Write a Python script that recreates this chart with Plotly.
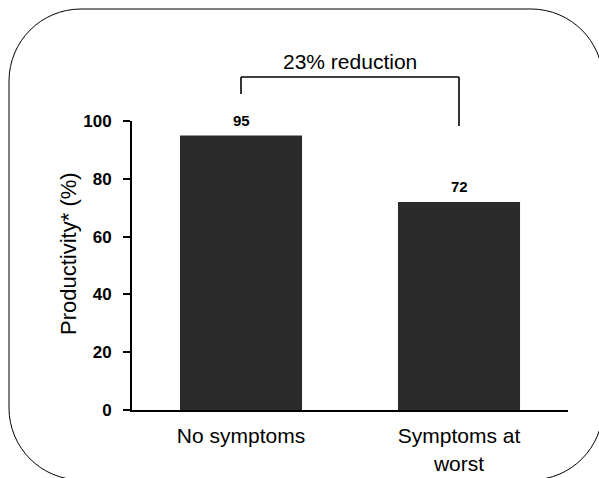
import plotly.graph_objects as go

# ---- data ----
categories = ["No symptoms", "Symptoms at<br>worst"]
values = [95, 72]
value_labels = ["95", "72"]
ytick_vals = [0, 20, 40, 60, 80, 100]
ytick_text = ["0", "20", "40", "60", "80", "100"]
reduction_label = "23% reduction"
y_title = "Productivity* (%)"

W, H = 599, 478
ML, MR, MT, MB = 132, 31, 121, 68
PW, PH = W - ML - MR, H - MT - MB

def px(x):
    return (x - ML) / PW

def py(y):
    return (H - MB - y) / PH

FONT = "Arial, Liberation Sans, Helvetica, sans-serif"

fig = go.Figure()
fig.add_trace(go.Bar(
    x=categories, y=values, width=0.56,
    marker=dict(color="#2b2b2b", line=dict(width=0)),
    hoverinfo="skip",
))

annotations = []
for c, v, t in zip(categories, values, value_labels):
    annotations.append(dict(
        x=c, y=v, xref="x", yref="y", text="<b>%s</b>" % t, showarrow=False,
        yanchor="middle", yshift=15, font=dict(size=15, color="black", family=FONT),
    ))

annotations.append(dict(
    x=0.5, y=py(62), xref="x", yref="paper", text=reduction_label, showarrow=False,
    xanchor="center", yanchor="middle", font=dict(size=21, color="black", family=FONT),
))
annotations.append(dict(
    x=px(69), y=py(254), xref="paper", yref="paper", text=y_title, showarrow=False,
    textangle=-90, xanchor="center", yanchor="middle",
    font=dict(size=22, color="black", family=FONT),
))

# rounded rectangle frame (pixel geometry converted to paper)
L, T, R, B, r = 9, 9, 603, 480, 72
k = 0.5523 * r
def P(x, y):
    return "%.5f,%.5f" % (px(x), py(y))
path = (
    "M " + P(L + r, T) +
    " L " + P(R - r, T) +
    " C " + P(R - r + k, T) + " " + P(R, T + r - k) + " " + P(R, T + r) +
    " L " + P(R, B - r) +
    " C " + P(R, B - r + k) + " " + P(R - r + k, B) + " " + P(R - r, B) +
    " L " + P(L + r, B) +
    " C " + P(L + r - k, B) + " " + P(L, B - r + k) + " " + P(L, B - r) +
    " L " + P(L, T + r) +
    " C " + P(L, T + r - k) + " " + P(L + r - k, T) + " " + P(L + r, T) + " Z"
)

shapes = [
    dict(type="path", path=path, xref="paper", yref="paper",
         line=dict(color="black", width=1), fillcolor="rgba(0,0,0,0)", layer="below"),
    # bracket
    dict(type="line", xref="x", yref="paper", x0=0, x1=1, y0=py(77), y1=py(77),
         line=dict(color="black", width=1.6)),
    dict(type="line", xref="x", yref="paper", x0=0, x1=0, y0=py(77), y1=py(94),
         line=dict(color="black", width=1.6)),
    dict(type="line", xref="x", yref="paper", x0=1, x1=1, y0=py(77), y1=py(126),
         line=dict(color="black", width=1.6)),
]

fig.update_layout(
    width=W, height=H,
    margin=dict(l=ML, r=MR, t=MT, b=MB, pad=0, autoexpand=False),
    paper_bgcolor="white", plot_bgcolor="white",
    showlegend=False,
    annotations=annotations, shapes=shapes,
    xaxis=dict(
        range=[-0.5, 1.5], showline=True, linecolor="black", linewidth=2,
        ticks="", showgrid=False, zeroline=False, automargin=False,
        tickfont=dict(size=21, color="black", family=FONT),
        ticklabelstandoff=6,
    ),
    yaxis=dict(
        range=[0, 100], tickvals=ytick_vals, ticktext=["<b>%s</b>" % t for t in ytick_text],
        showline=True, linecolor="black", linewidth=2,
        ticks="outside", ticklen=7, tickwidth=2, tickcolor="black",
        showgrid=False, zeroline=False, automargin=False,
        tickfont=dict(size=17, color="black", family=FONT),
        ticklabelstandoff=8,
    ),
)

fig.write_html("out.html", config={"displayModeBar": False})
